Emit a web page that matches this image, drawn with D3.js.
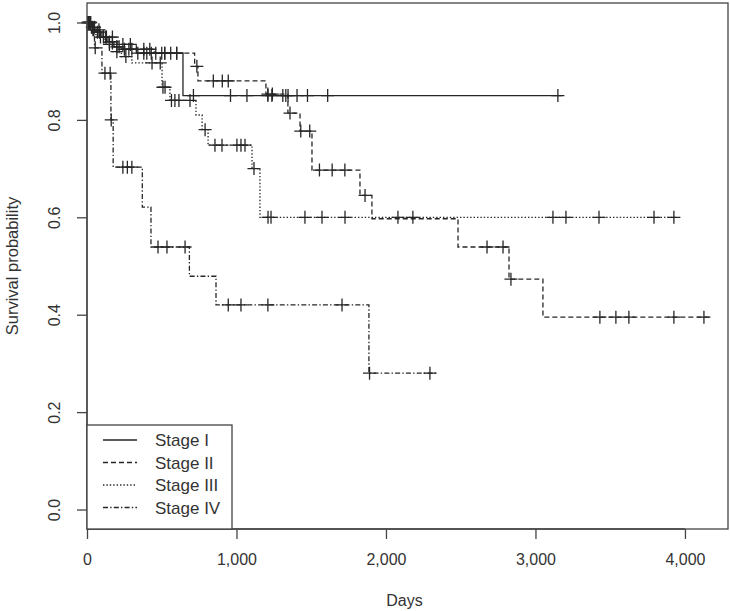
<!DOCTYPE html>
<html>
<head>
<meta charset="utf-8">
<script src="https://cdn.jsdelivr.net/npm/d3@7"></script>
<style>
  html, body { margin: 0; padding: 0; background: #ffffff; }
  svg { display: block; font-family: "Liberation Sans", Arial, sans-serif; }
</style>
</head>
<body>
<svg id="chart" width="730" height="611"></svg>
<script>
// ---- Data ----
const stageNames = ["Stage I", "Stage II", "Stage III", "Stage IV"];

const stage1Times = [0, 30, 60, 100, 140, 180, 230, 330, 642, 3177];
const stage1Surv  = [1.0, 0.99, 0.98, 0.97, 0.96, 0.95, 0.945, 0.937, 0.85, 0.85];
const stage1Censor = [5, 10, 15, 20, 25, 35, 50, 70, 85, 110, 125, 150, 170, 200, 215, 250, 280, 300, 340, 380, 400, 430, 460, 500, 520, 560, 600, 712, 960, 1070, 1210, 1237, 1310, 1330, 1345, 1405, 1475, 1610, 3150];

const stage2Times = [0, 40, 110, 200, 330, 450, 720, 742, 1197, 1344, 1425, 1505, 1826, 1906, 2482, 2823, 3050, 4160];
const stage2Surv  = [1.0, 0.985, 0.97, 0.955, 0.945, 0.937, 0.91, 0.88, 0.853, 0.814, 0.777, 0.697, 0.645, 0.597, 0.539, 0.473, 0.395, 0.395];
const stage2Censor = [15, 45, 80, 130, 170, 240, 290, 380, 420, 520, 600, 735, 845, 905, 945, 1210, 1240, 1358, 1430, 1490, 1555, 1640, 1725, 1860, 2676, 2783, 2836, 3431, 3538, 3625, 3926, 4127];

const stage3Times = [0, 25, 60, 120, 170, 230, 300, 502, 555, 729, 770, 810, 1104, 1157, 3945];
const stage3Surv  = [1.0, 0.985, 0.97, 0.955, 0.94, 0.93, 0.917, 0.867, 0.84, 0.81, 0.78, 0.748, 0.70, 0.60, 0.60];
const stage3Censor = [40, 90, 150, 200, 260, 435, 490, 508, 522, 565, 588, 615, 689, 790, 856, 903, 1003, 1030, 1057, 1117, 1211, 1231, 1458, 1572, 1726, 2080, 2180, 3117, 3204, 3425, 3793, 3926];

const stage4Times = [0, 30, 50, 100, 160, 175, 370, 428, 685, 863, 1886, 2350];
const stage4Surv  = [1.0, 0.975, 0.948, 0.896, 0.80, 0.703, 0.621, 0.539, 0.479, 0.42, 0.28, 0.28];
const stage4Censor = [55, 120, 155, 162, 240, 270, 300, 475, 535, 656, 945, 1030, 1210, 1706, 1890, 2294];

const xTicks = [0, 1000, 2000, 3000, 4000];
const xTickLabels = ["0", "1,000", "2,000", "3,000", "4,000"];
const yTicks = [0.0, 0.2, 0.4, 0.6, 0.8, 1.0];
const yTickLabels = ["0.0", "0.2", "0.4", "0.6", "0.8", "1.0"];

// ---- Layout ----
const svg = d3.select("#chart");
const L = 87, R = 728, T = 3, B = 529;
const x = d3.scaleLinear().domain([0, 4288]).range([L, R]);
const y = d3.scaleLinear().domain([-0.04, 1.04]).range([B, T]);

const ink = "#262626";
const styles = [
  { dash: null },
  { dash: "5,3" },
  { dash: "1.4,2" },
  { dash: "5,2.2,1.4,2.2" }
];

const series = [
  { times: stage1Times, surv: stage1Surv, censor: stage1Censor },
  { times: stage2Times, surv: stage2Surv, censor: stage2Censor },
  { times: stage3Times, surv: stage3Surv, censor: stage3Censor },
  { times: stage4Times, surv: stage4Surv, censor: stage4Censor }
];

function survAt(s, t) {
  let v = s.surv[0];
  for (let i = 0; i < s.times.length; i++) {
    if (s.times[i] <= t) v = s.surv[i]; else break;
  }
  return v;
}

const line = d3.line()
  .x(d => x(d[0]))
  .y(d => y(d[1]))
  .curve(d3.curveStepAfter);

const plot = svg.append("g");
series.forEach((s, i) => {
  const pts = s.times.map((t, j) => [t, s.surv[j]]);
  plot.append("path")
    .attr("d", line(pts))
    .attr("fill", "none")
    .attr("stroke", ink)
    .attr("stroke-width", 1.3)
    .attr("stroke-dasharray", styles[i].dash);
  const h = 6.5;
  plot.append("g").selectAll("path")
    .data(s.censor)
    .join("path")
    .attr("d", t => {
      const cx = x(t), cy = y(survAt(s, t));
      return `M${cx - h},${cy}H${cx + h}M${cx},${cy - h}V${cy + h}`;
    })
    .attr("stroke", ink)
    .attr("stroke-width", 1.3)
    .attr("fill", "none");
});

// ---- Box ----
svg.append("rect")
  .attr("x", L).attr("y", T)
  .attr("width", R - L).attr("height", B - T)
  .attr("fill", "none")
  .attr("stroke", "#444")
  .attr("stroke-width", 1.3);

// ---- Axes ----
const xAxis = d3.axisBottom(x).tickValues(xTicks)
  .tickFormat((d, i) => xTickLabels[i]).tickSize(10).tickPadding(15);
const gx = svg.append("g").attr("transform", `translate(0,${B})`).call(xAxis);
gx.select(".domain").attr("d", `M${x(0)},0H${x(4000)}`).attr("stroke", "#444").attr("stroke-width", 1.3);
gx.selectAll(".tick line").attr("stroke", "#444").attr("stroke-width", 1.3);
gx.selectAll(".tick text").attr("font-size", 16).attr("fill", "#333")
  .attr("font-family", "Liberation Sans, Arial, sans-serif");

const yAxis = d3.axisLeft(y).tickValues(yTicks)
  .tickFormat((d, i) => yTickLabels[i]).tickSize(10);
const gy = svg.append("g").attr("transform", `translate(${L},0)`).call(yAxis);
gy.select(".domain").attr("d", `M0,${y(0)}V${y(1)}`).attr("stroke", "#444").attr("stroke-width", 1.3);
gy.selectAll(".tick line").attr("stroke", "#444").attr("stroke-width", 1.3);
gy.selectAll(".tick text")
  .attr("font-size", 16).attr("fill", "#333")
  .attr("font-family", "Liberation Sans, Arial, sans-serif")
  .attr("x", null).attr("dy", null)
  .attr("text-anchor", "middle")
  .attr("transform", `translate(-33,0) rotate(-90)`)
  .attr("y", 6);

// ---- Axis titles ----
svg.append("text")
  .attr("x", (L + R) / 2 - 3).attr("y", 606)
  .attr("text-anchor", "middle")
  .attr("font-size", 16).attr("fill", "#333")
  .text("Days");
svg.append("text")
  .attr("transform", `translate(18,${(T + B) / 2}) rotate(-90)`)
  .attr("text-anchor", "middle")
  .attr("font-size", 16.5).attr("fill", "#333")
  .text("Survival probability");

// ---- Legend ----
const lg = svg.append("g");
lg.append("rect")
  .attr("x", L).attr("y", 425)
  .attr("width", 232 - L).attr("height", B - 425)
  .attr("fill", "#fff")
  .attr("stroke", "#444").attr("stroke-width", 1.3);
stageNames.forEach((name, i) => {
  const cy = 440 + i * 22.5;
  lg.append("line")
    .attr("x1", 103).attr("x2", 137)
    .attr("y1", cy).attr("y2", cy)
    .attr("stroke", ink).attr("stroke-width", 1.3)
    .attr("stroke-dasharray", styles[i].dash);
  lg.append("text")
    .attr("x", 155).attr("y", cy + 6)
    .attr("font-size", 17).attr("fill", "#333")
    .text(name);
});
</script>
</body>
</html>
